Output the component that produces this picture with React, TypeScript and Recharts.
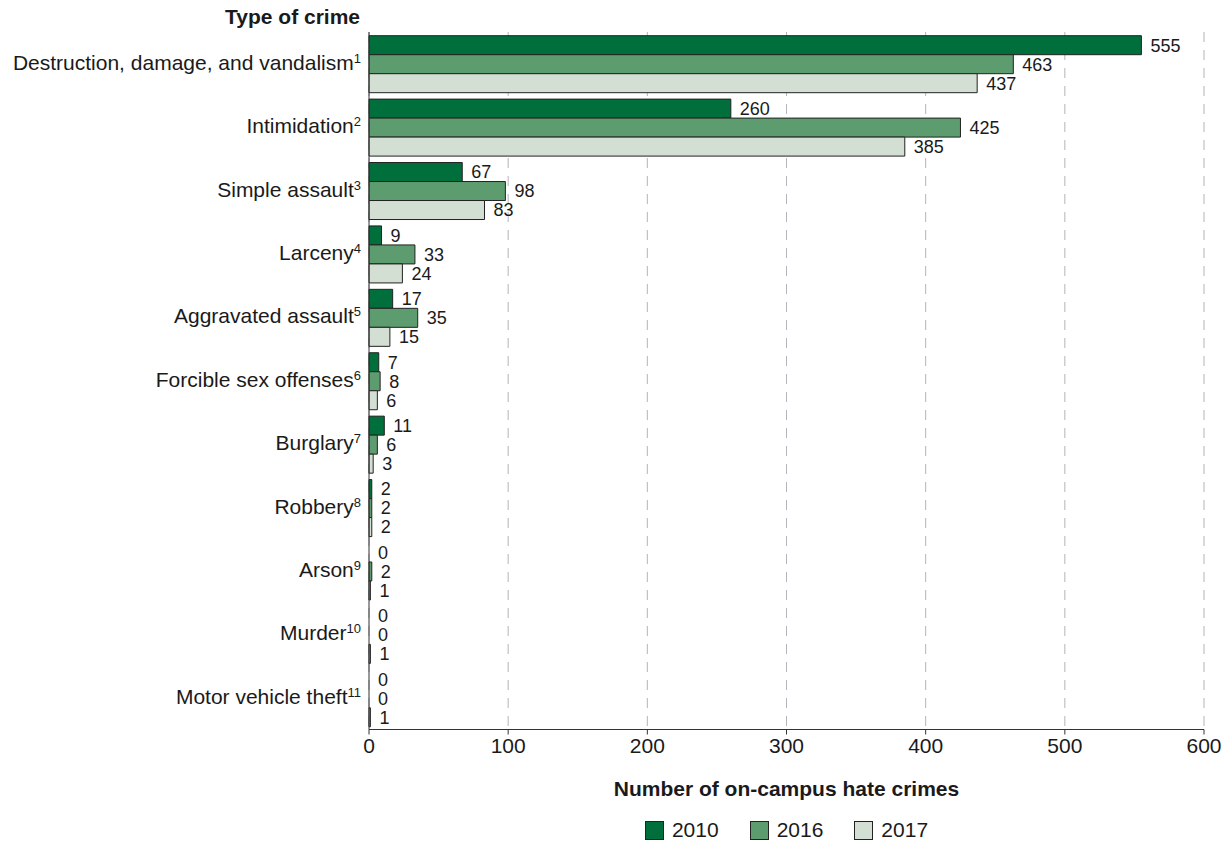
import { Bar, BarChart, CartesianGrid, Cell, LabelList, XAxis, YAxis } from 'recharts'

const crimeTypes = [
  'Destruction, damage, and vandalism',
  'Intimidation',
  'Simple assault',
  'Larceny',
  'Aggravated assault',
  'Forcible sex offenses',
  'Burglary',
  'Robbery',
  'Arson',
  'Murder',
  'Motor vehicle theft',
]
const footnotes = ['1', '2', '3', '4', '5', '6', '7', '8', '9', '10', '11']
const crimes2010 = [555, 260, 67, 9, 17, 7, 11, 2, 0, 0, 0]
const crimes2016 = [463, 425, 98, 33, 35, 8, 6, 2, 2, 0, 0]
const crimes2017 = [437, 385, 83, 24, 15, 6, 3, 2, 1, 1, 1]
const xTicks = [0, 100, 200, 300, 400, 500, 600]

const years = [
  { key: 'y2010', label: '2010', color: '#006f3b', values: crimes2010 },
  { key: 'y2016', label: '2016', color: '#5d9c6e', values: crimes2016 },
  { key: 'y2017', label: '2017', color: '#d3dfd3', values: crimes2017 },
]

const data = crimeTypes.map((name, i) => ({
  name,
  y2010: crimes2010[i],
  y2016: crimes2016[i],
  y2017: crimes2017[i],
}))

const FONT = '"Liberation Sans", Arial, sans-serif'
const TEXT = '#1a1a1a'

const CrimeTick = ({ x, y, payload, index }: any) => {
  return (
    <text x={x} y={y} textAnchor="end" fontSize={21} fill={TEXT} fontFamily={FONT}>
      <tspan dy={6}>{payload.value}</tspan>
      <tspan dy={-7} fontSize={13}>{footnotes[index]}</tspan>
    </text>
  )
}

export default function App() {
  return (
    <div style={{ position: 'absolute', left: 0, top: 0, width: 1230, height: 844, background: '#fff', fontFamily: FONT }}>
      <BarChart
        width={1230}
        height={844}
        data={data}
        layout="vertical"
        margin={{ top: 32, right: 26, bottom: 0, left: 0 }}
        barCategoryGap={3.7}
        barGap={0}
      >
        <CartesianGrid horizontal={false} strokeDasharray="10 8" stroke="#b4b4bc" />
        <XAxis
          type="number"
          domain={[0, 600]}
          ticks={xTicks}
          height={114.5}
          tickSize={5}
          tickMargin={4}
          stroke="#333"
          tick={{ fill: TEXT, fontSize: 21, fontFamily: FONT }}
        />
        <YAxis
          type="category"
          dataKey="name"
          width={369}
          tickLine={false}
          stroke="#333"
          tick={<CrimeTick />}
        />
        {years.map((yr) => (
          <Bar
            key={yr.key}
            dataKey={yr.key}
            fill={yr.color}
            stroke="#222"
            strokeWidth={1}
            minPointSize={0.01}
            isAnimationActive={false}
          >
            {yr.values.map((v, i) => (
              <Cell key={i} stroke={v === 0 ? 'none' : '#222'} />
            ))}
            <LabelList dataKey={yr.key} position="right" offset={9} fill={TEXT} fontSize={18} fontFamily={FONT} />
          </Bar>
        ))}
      </BarChart>
      <div style={{ position: 'absolute', right: 1230 - 360, top: 5, fontWeight: 'bold', fontSize: 21, color: TEXT }}>
        Type of crime
      </div>
      <div style={{ position: 'absolute', left: 369, width: 835, top: 777, textAlign: 'center', fontWeight: 'bold', fontSize: 21, color: TEXT }}>
        Number of on-campus hate crimes
      </div>
      <div style={{ position: 'absolute', left: 369, width: 835, top: 818, display: 'flex', justifyContent: 'center', gap: 31, fontSize: 21, color: TEXT }}>
        {years.map((yr) => (
          <div key={yr.key} style={{ display: 'flex', alignItems: 'center', gap: 8 }}>
            <span style={{ display: 'inline-block', width: 19, height: 19, background: yr.color, border: '1px solid #222', boxSizing: 'border-box' }} />
            <span>{yr.label}</span>
          </div>
        ))}
      </div>
    </div>
  )
}
